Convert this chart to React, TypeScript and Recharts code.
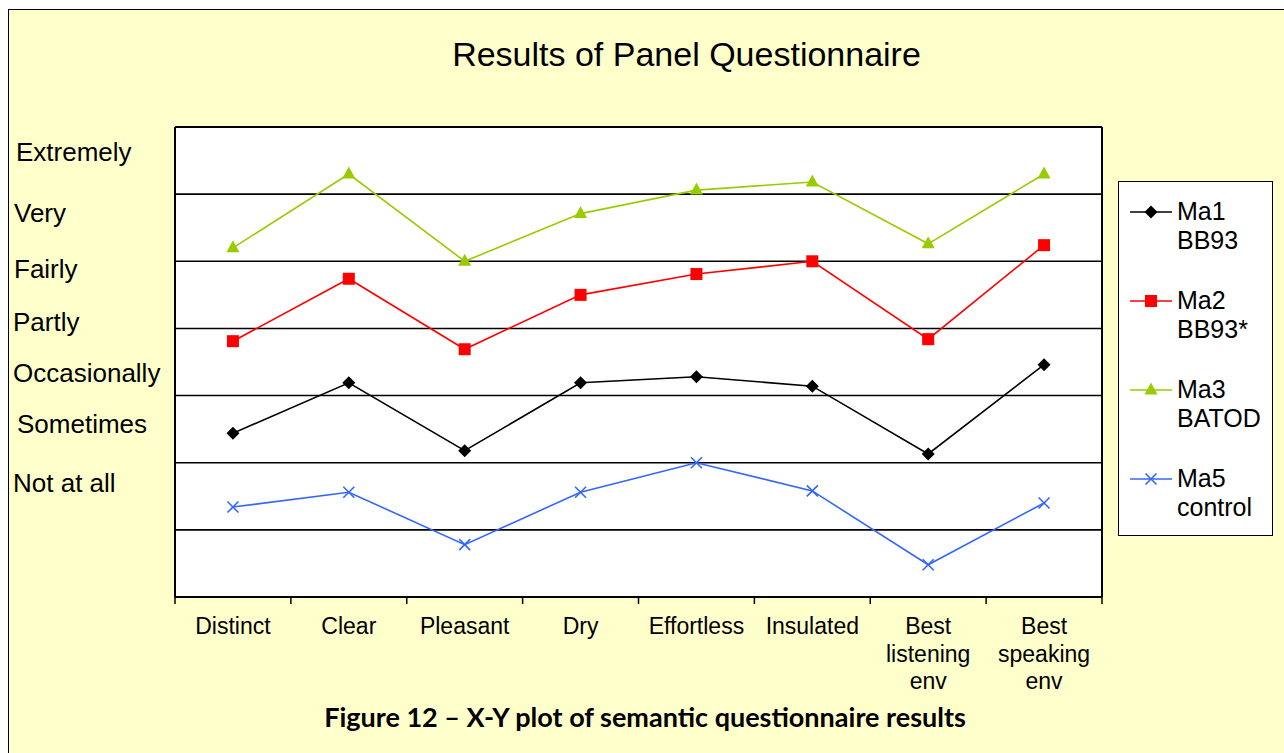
import React from 'react';
import {
  LineChart,
  Line,
  XAxis,
  YAxis,
  CartesianGrid,
  ReferenceLine,
  Legend,
} from 'recharts';

// categories along the x axis (label lines split for wrapping)
const categories = [
  'Distinct',
  'Clear',
  'Pleasant',
  'Dry',
  'Effortless',
  'Insulated',
  'Best listening env',
  'Best speaking env',
];
const categoryLines = [
  ['Distinct'],
  ['Clear'],
  ['Pleasant'],
  ['Dry'],
  ['Effortless'],
  ['Insulated'],
  ['Best', 'listening', 'env'],
  ['Best', 'speaking', 'env'],
];

// series values (0 - 7 scale)
const ma1 = [2.44, 3.19, 2.18, 3.19, 3.28, 3.14, 2.13, 3.46];
const ma2 = [3.81, 4.74, 3.69, 4.5, 4.81, 5.0, 3.84, 5.24];
const ma3 = [5.2, 6.3, 5.0, 5.71, 6.06, 6.18, 5.26, 6.3];
const ma5 = [1.34, 1.56, 0.78, 1.56, 2.0, 1.58, 0.48, 1.4];

// hand placed scale labels of the original
const scaleLabels = ['Extremely', 'Very', 'Fairly', 'Partly', 'Occasionally', 'Sometimes', 'Not at all'];
const scaleLabelValues = [6.63, 5.72, 4.885, 4.1, 3.34, 2.58, 1.7];
const scaleLabelX = [16, 14, 14, 13, 13, 17, 13];

const gridValues = [1, 2, 3, 4, 5, 6];

const seriesInfo = [
  { key: 'ma1', lines: ['Ma1', 'BB93'], color: '#000000', marker: 'diamond' },
  { key: 'ma2', lines: ['Ma2', 'BB93*'], color: '#FF0000', marker: 'square' },
  { key: 'ma3', lines: ['Ma3', 'BATOD'], color: '#99CC00', marker: 'triangle' },
  { key: 'ma5', lines: ['Ma5', 'control'], color: '#3366FF', marker: 'cross' },
];

const data = categories.map((name, i) => ({
  name,
  ma1: ma1[i],
  ma2: ma2[i],
  ma3: ma3[i],
  ma5: ma5[i],
}));

const W = 1284;
const H = 753;
const PLOT_LEFT = 175;
const PLOT_RIGHT = 1102;
const PLOT_TOP = 127;
const PLOT_BOTTOM = 597;
const X_AXIS_H = 100;
const FONT = '"Liberation Sans", Arial, sans-serif';

const bandWidth = (PLOT_RIGHT - PLOT_LEFT) / categories.length;

const Marker = ({ type, cx, cy, color }: any) => {
  if (cx == null || cy == null) return null;
  if (type === 'diamond') {
    return (
      <polygon
        points={`${cx},${cy - 6.5} ${cx + 6.5},${cy} ${cx},${cy + 6.5} ${cx - 6.5},${cy}`}
        fill={color}
      />
    );
  }
  if (type === 'square') {
    return <rect x={cx - 6} y={cy - 6} width={12} height={12} fill={color} />;
  }
  if (type === 'triangle') {
    return (
      <polygon
        points={`${cx},${cy - 7.5} ${cx + 6.5},${cy + 4.5} ${cx - 6.5},${cy + 4.5}`}
        fill={color}
      />
    );
  }
  return (
    <g stroke={color} strokeWidth={1.6}>
      <line x1={cx - 5.5} y1={cy - 5.5} x2={cx + 5.5} y2={cy + 5.5} />
      <line x1={cx - 5.5} y1={cy + 5.5} x2={cx + 5.5} y2={cy - 5.5} />
    </g>
  );
};

const makeDot = (type: string, color: string) => (props: any) => (
  <Marker key={`dot-${type}-${props.index}`} type={type} cx={props.cx} cy={props.cy} color={color} />
);

const XTick = (props: any) => {
  const { x, y, index } = props;
  const lines = categoryLines[index] || [];
  const left = x - bandWidth / 2;
  const right = x + bandWidth / 2;
  return (
    <g>
      <line x1={left} y1={y} x2={left} y2={y + 7} stroke="#000" strokeWidth={1.5} />
      {index === categories.length - 1 && (
        <line x1={right} y1={y} x2={right} y2={y + 7} stroke="#000" strokeWidth={1.5} />
      )}
      <text textAnchor="middle" fontFamily={FONT} fontSize={23} fill="#000">
        {lines.map((ln: string, i: number) => (
          <tspan key={i} x={x} y={y + 37 + i * 27.5}>
            {ln}
          </tspan>
        ))}
      </text>
    </g>
  );
};

const YTick = (props: any) => {
  const { y, payload } = props;
  const idx = scaleLabelValues.indexOf(payload.value);
  return (
    <text x={scaleLabelX[idx]} y={y} dy="0.36em" textAnchor="start" fontFamily={FONT} fontSize={26} fill="#000">
      {scaleLabels[idx]}
    </text>
  );
};

const LegendBox = (props: any) => {
  const payload = props.payload || [];
  return (
    <div
      style={{
        width: 155,
        height: 355,
        boxSizing: 'border-box',
        border: '1.5px solid #000',
        background: '#fff',
        paddingTop: 15,
        fontFamily: FONT,
        fontSize: 25,
        color: '#000',
        textAlign: 'left',
      }}
    >
      {payload.map((entry: any) => {
        const info = seriesInfo.find((s) => s.key === entry.dataKey);
        if (!info) return null;
        return (
          <div key={info.key} style={{ display: 'flex', height: 89, alignItems: 'flex-start' }}>
            <svg width={58} height={29} style={{ flex: 'none' }}>
              <line x1={11} y1={15} x2={53} y2={15} stroke={info.color} strokeWidth={1.6} />
              <Marker type={info.marker} cx={32} cy={15} color={info.color} />
            </svg>
            <div style={{ lineHeight: '29px' }}>
              {info.lines.map((ln) => (
                <div key={ln}>{ln}</div>
              ))}
            </div>
          </div>
        );
      })}
    </div>
  );
};

export default function App() {
  return (
    <div style={{ position: 'fixed', left: 0, top: 0, width: W, height: H, overflow: 'hidden', background: '#fff' }}>
      <div
        style={{
          position: 'absolute',
          left: 8,
          top: 9,
          width: 1300,
          height: 800,
          border: '1.5px solid #000',
          background: '#FFFFCC',
        }}
      />
      <div
        style={{
          position: 'absolute',
          left: 0,
          width: 1373,
          top: 35,
          textAlign: 'center',
          fontFamily: FONT,
          fontSize: 34,
          color: '#000',
        }}
      >
        Results of Panel Questionnaire
      </div>
      <div style={{ position: 'absolute', left: 0, top: 0 }}>
        <LineChart
          width={W}
          height={H}
          data={data}
          margin={{
            top: PLOT_TOP - 1,
            left: PLOT_LEFT - 1,
            right: W - PLOT_RIGHT - 1,
            bottom: H - PLOT_BOTTOM - X_AXIS_H,
          }}
        >
          <CartesianGrid fill="#fff" horizontal={false} vertical={false} />
          <XAxis
            dataKey="name"
            height={X_AXIS_H}
            interval={0}
            tickSize={0}
            tickMargin={0}
            tickLine={false}
            padding={{ left: bandWidth / 2, right: bandWidth / 2 }}
            axisLine={{ stroke: '#000', strokeWidth: 2 }}
            tick={<XTick />}
          />
          <XAxis
            xAxisId="top"
            dataKey="name"
            orientation="top"
            height={1}
            tick={false}
            tickLine={false}
            axisLine={{ stroke: '#000', strokeWidth: 2 }}
          />
          <YAxis
            domain={[0, 7]}
            ticks={scaleLabelValues}
            width={1}
            tickLine={false}
            tickSize={0}
            interval={0}
            axisLine={{ stroke: '#000', strokeWidth: 2 }}
            tick={<YTick />}
          />
          <YAxis
            yAxisId="r"
            orientation="right"
            domain={[0, 7]}
            width={1}
            tick={false}
            tickLine={false}
            axisLine={{ stroke: '#000', strokeWidth: 2 }}
          />
          {gridValues.map((v) => (
            <ReferenceLine key={v} y={v} stroke="#000" strokeWidth={1.6} />
          ))}
          <Legend
            layout="vertical"
            verticalAlign="middle"
            align="center"
            content={<LegendBox />}
            wrapperStyle={{ left: 1118, top: 181, width: 155, height: 355 }}
          />
          {seriesInfo.map((s) => (
            <Line
              key={s.key}
              dataKey={s.key}
              name={s.lines.join(' ')}
              stroke={s.color}
              strokeWidth={1.6}
              dot={makeDot(s.marker, s.color)}
              activeDot={false}
              isAnimationActive={false}
            />
          ))}
        </LineChart>
      </div>
      <div
        style={{
          position: 'absolute',
          left: 0,
          width: 1290,
          top: 700,
          textAlign: 'center',
          fontFamily: 'Lato, "Open Sans", sans-serif',
          fontWeight: 700,
          fontSize: 27,
          color: '#000',
        }}
      >
        Figure 12 – X-Y plot of semantic questionnaire results
      </div>
    </div>
  );
}
